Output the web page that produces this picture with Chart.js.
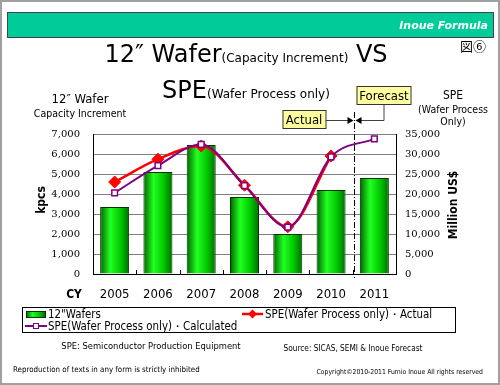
<!DOCTYPE html>
<html>
<head>
<meta charset="utf-8">
<script src="https://cdn.jsdelivr.net/npm/chart.js@4.4.0/dist/chart.umd.min.js"></script>
<style>
html, body { margin: 0; padding: 0; background: #fff; }
#wrap { position: relative; width: 500px; height: 385px; }
</style>
</head>
<body>
<div id="wrap"><canvas id="chart" width="500" height="385"></canvas></div>
<script>
// values
var years = ['2005', '2006', '2007', '2008', '2009', '2010', '2011'];
var wafers = [3350, 5100, 6450, 3850, 2000, 4200, 4800];
var speActual = [23000, 28700, 32000, 22200, 11800, 29500, null];
var speCalculated = [20300, 27100, 32400, 22100, 11700, 29300, 33800];

var COND = '"DejaVu Sans Condensed", "DejaVu Sans", sans-serif';
var SANS = '"DejaVu Sans", sans-serif';
var SERIF = '"DejaVu Serif", serif';
var BAR_PCT = 0.67;

function barGradient(ctx, x0, x1) {
    var g = ctx.createLinearGradient(x0, 0, x1, 0);
    g.addColorStop(0, '#006400');
    g.addColorStop(0.35, '#22ff22');
    g.addColorStop(0.7, '#00c800');
    g.addColorStop(1, '#006e00');
    return g;
}

function txt(ctx, s, x, y, font, color, align) {
    ctx.font = font;
    ctx.fillStyle = color || '#000';
    ctx.textAlign = align || 'left';
    ctx.textBaseline = 'alphabetic';
    ctx.fillText(s, x, y);
}

function arrow(ctx, x, y, dir) {
    ctx.beginPath();
    ctx.moveTo(x, y);
    ctx.lineTo(x - 6 * dir, y - 3.5);
    ctx.lineTo(x - 6 * dir, y + 3.5);
    ctx.closePath();
    ctx.fill();
}

var decor = {
    id: 'decor',
    beforeDatasetsDraw: function (chart) {
        // small inward ticks on the category axis between years
        var ctx = chart.ctx;
        var x = chart.scales.x;
        var b = chart.chartArea.bottom;
        ctx.save();
        ctx.strokeStyle = '#000';
        ctx.lineWidth = 1;
        ctx.beginPath();
        for (var i = 1; i < years.length; i++) {
            var px = Math.round((x.getPixelForValue(i - 1) + x.getPixelForValue(i)) / 2) + 0.5;
            ctx.moveTo(px, b - 4);
            ctx.lineTo(px, b);
        }
        ctx.stroke();
        ctx.restore();
    },
    afterDraw: function (chart) {
        var ctx = chart.ctx;
        var x = chart.scales.x;
        ctx.save();

        // frame and banner
        ctx.strokeStyle = '#a0a0a0';
        ctx.lineWidth = 2;
        ctx.strokeRect(1, 1, 498, 383);
        ctx.fillStyle = '#00cc99';
        ctx.fillRect(7, 12, 486, 25);
        ctx.strokeStyle = '#444';
        ctx.lineWidth = 1;
        ctx.strokeRect(7.5, 12.5, 486, 25);
        txt(ctx, 'Inoue Formula', 488, 29, 'bold italic 11px ' + SANS, '#fff', 'right');
        txt(ctx, '図⑥', 473, 51, '13px "Noto Sans CJK JP"', '#000', 'center');

        // title, two lines of mixed sizes
        var lines = [
            [['12\u2033 Wafer', 24], ['(Capacity Increment)', 12], [' VS', 24]],
            [['SPE', 24], ['(Wafer Process only)', 12]]
        ];
        var base = [62, 98];
        lines.forEach(function (parts, i) {
            var w = 0;
            parts.forEach(function (p) {
                ctx.font = p[1] + 'px ' + SANS;
                w += ctx.measureText(p[0]).width;
            });
            var cx = 246 - w / 2;
            parts.forEach(function (p) {
                txt(ctx, p[0], cx, base[i], p[1] + 'px ' + SANS, '#000', 'left');
                cx += ctx.measureText(p[0]).width;
            });
        });

        // axis titles
        txt(ctx, '12\u2033 Wafer', 80, 103, '13px ' + COND, '#000', 'center');
        txt(ctx, 'Capacity Increment', 80, 117, '10.5px ' + COND, '#000', 'center');
        txt(ctx, 'SPE', 453, 99, '12px ' + COND, '#000', 'center');
        txt(ctx, '(Wafer Process', 453, 113, '10.5px ' + COND, '#000', 'center');
        txt(ctx, 'Only)', 453, 125, '10.5px ' + COND, '#000', 'center');
        txt(ctx, 'CY', 74, 298, 'bold 12px ' + COND, '#000', 'center');

        ctx.save();
        ctx.translate(45, 200);
        ctx.rotate(-Math.PI / 2);
        txt(ctx, 'kpcs', 0, 0, 'bold 12px ' + COND, '#000', 'center');
        ctx.restore();
        ctx.save();
        ctx.translate(457, 205);
        ctx.rotate(-Math.PI / 2);
        txt(ctx, 'Million US$', 0, 0, 'bold 12px ' + COND, '#000', 'center');
        ctx.restore();

        // actual / forecast divider
        var lx = Math.round((x.getPixelForValue(5) + x.getPixelForValue(6)) / 2) + 1.5;
        ctx.strokeStyle = '#000';
        ctx.lineWidth = 1;
        ctx.setLineDash([6, 2, 1, 2]);
        ctx.beginPath();
        ctx.moveTo(lx, 112);
        ctx.lineTo(lx, chart.chartArea.bottom + 4);
        ctx.stroke();
        ctx.setLineDash([]);

        ctx.fillStyle = '#ffffa0';
        ctx.fillRect(lx - 72, 110, 43, 18);
        ctx.strokeStyle = '#333';
        ctx.strokeRect(lx - 72 + 0.5, 110.5, 43, 18);
        txt(ctx, 'Actual', lx - 50.5, 124, '13px ' + COND, '#000', 'center');
        ctx.fillStyle = '#ffffa0';
        ctx.fillRect(lx + 2, 86, 54, 18);
        ctx.strokeRect(lx + 2.5, 86.5, 54, 18);
        txt(ctx, 'Forecast', lx + 29.5, 100, '13px ' + COND, '#000', 'center');

        ctx.strokeStyle = '#444';
        ctx.fillStyle = '#000';
        ctx.beginPath();
        ctx.moveTo(lx - 29, 120.5);
        ctx.lineTo(lx - 3, 120.5);
        ctx.moveTo(lx + 29.5, 105);
        ctx.lineTo(lx + 29.5, 120.5);
        ctx.lineTo(lx + 3, 120.5);
        ctx.stroke();
        arrow(ctx, lx - 1, 120.5, 1);
        arrow(ctx, lx + 1, 120.5, -1);

        // legend
        ctx.fillStyle = '#fff';
        ctx.fillRect(22, 307, 433, 25);
        ctx.strokeStyle = '#000';
        ctx.strokeRect(22.5, 307.5, 433, 25);
        var ds = chart.data.datasets;
        var lf = '11.4px ' + COND;
        ctx.fillStyle = barGradient(ctx, 26, 45);
        ctx.fillRect(26, 311, 19, 6);
        ctx.strokeStyle = '#003300';
        ctx.strokeRect(26.5, 311.5, 19, 6);
        txt(ctx, ds[0].label, 48, 318, lf);

        ctx.strokeStyle = ds[1].borderColor;
        ctx.lineWidth = 2.5;
        ctx.beginPath();
        ctx.moveTo(242, 314);
        ctx.lineTo(263, 314);
        ctx.stroke();
        ctx.fillStyle = ds[1].pointBackgroundColor;
        ctx.beginPath();
        ctx.moveTo(252.5, 309.5);
        ctx.lineTo(257, 314);
        ctx.lineTo(252.5, 318.5);
        ctx.lineTo(248, 314);
        ctx.closePath();
        ctx.fill();
        txt(ctx, ds[1].label, 265, 318, lf);

        ctx.strokeStyle = ds[2].borderColor;
        ctx.lineWidth = 2;
        ctx.beginPath();
        ctx.moveTo(25, 326);
        ctx.lineTo(47, 326);
        ctx.stroke();
        ctx.fillStyle = '#fff';
        ctx.lineWidth = 1;
        ctx.fillRect(33, 323, 6, 6);
        ctx.strokeRect(33.5, 323.5, 5, 5);
        txt(ctx, ds[2].label, 48, 330, lf);

        // notes
        txt(ctx, 'SPE: Semiconductor Production Equipment', 151, 349, '9.3px ' + COND, '#000', 'center');
        txt(ctx, 'Source: SICAS, SEMI & Inoue Forecast', 353, 351, '8.2px ' + COND, '#000', 'center');
        txt(ctx, 'Reproduction of texts in any form is strictly inhibited', 13, 372, '7.9px ' + COND, '#000', 'left');
        txt(ctx, 'Copyright\u00a92010-2011 Fumio Inoue All rights reserved', 483, 374, '6.8px ' + COND, '#000', 'right');

        ctx.restore();
    }
};

var ctx = document.getElementById('chart').getContext('2d');
var chart = new Chart(ctx, {
    type: 'bar',
    data: {
        labels: years,
        datasets: [{
            type: 'bar',
            label: '12"Wafers',
            data: wafers,
            yAxisID: 'y',
            order: 3,
            barPercentage: BAR_PCT,
            categoryPercentage: 1,
            borderColor: '#003300',
            borderWidth: 1,
            backgroundColor: function (c) {
                var sx = c.chart.scales.x;
                if (!sx || c.type !== 'data') return '#00cc00';
                var cx = sx.getPixelForValue(c.dataIndex);
                var w = sx.width / years.length * BAR_PCT;
                if (!isFinite(cx) || !isFinite(w) || w <= 0) return '#00cc00';
                return barGradient(c.chart.ctx, cx - w / 2, cx + w / 2);
            }
        }, {
            type: 'line',
            label: 'SPE(Wafer Process only)\u30fbActual',
            data: speActual,
            yAxisID: 'y1',
            order: 2,
            borderColor: '#ff0000',
            borderWidth: 2.5,
            cubicInterpolationMode: 'monotone',
            pointStyle: 'rectRot',
            pointRadius: 6,
            pointBackgroundColor: '#ff0000',
            pointBorderColor: '#ff0000',
            pointBorderWidth: 1
        }, {
            type: 'line',
            label: 'SPE(Wafer Process only)\u30fbCalculated',
            data: speCalculated,
            yAxisID: 'y1',
            order: 1,
            borderColor: '#800080',
            borderWidth: 2,
            cubicInterpolationMode: 'monotone',
            pointStyle: 'rect',
            pointRadius: 4,
            pointBackgroundColor: '#ffffff',
            pointBorderColor: '#800080',
            pointBorderWidth: 1.5
        }]
    },
    options: {
        responsive: false,
        animation: false,
        layout: {padding: {top: 134, left: 0, right: 0, bottom: 0}},
        plugins: {legend: {display: false}, tooltip: {enabled: false}},
        scales: {
            x: {
                offset: true,
                afterFit: function (s) { s.height = 111; },
                grid: {display: false},
                border: {color: '#000'},
                ticks: {color: '#000', padding: 5, font: {family: COND, size: 13}}
            },
            y: {
                position: 'left',
                min: 0,
                max: 7000,
                afterFit: function (s) { s.width = 93; },
                grid: {color: '#808080', drawTicks: false},
                border: {color: '#000'},
                ticks: {
                    stepSize: 1000,
                    padding: 13,
                    color: '#000',
                    font: {family: SERIF, size: 10},
                    callback: function (v) { return v.toLocaleString('en-US'); }
                }
            },
            y1: {
                position: 'right',
                min: 0,
                max: 35000,
                afterFit: function (s) { s.width = 104; },
                grid: {drawOnChartArea: false, drawTicks: false},
                border: {color: '#000'},
                ticks: {
                    stepSize: 5000,
                    padding: 9,
                    color: '#000',
                    font: {family: SERIF, size: 10},
                    callback: function (v) { return v.toLocaleString('en-US'); }
                }
            }
        }
    },
    plugins: [decor]
});
chart.update();
</script>
</body>
</html>
